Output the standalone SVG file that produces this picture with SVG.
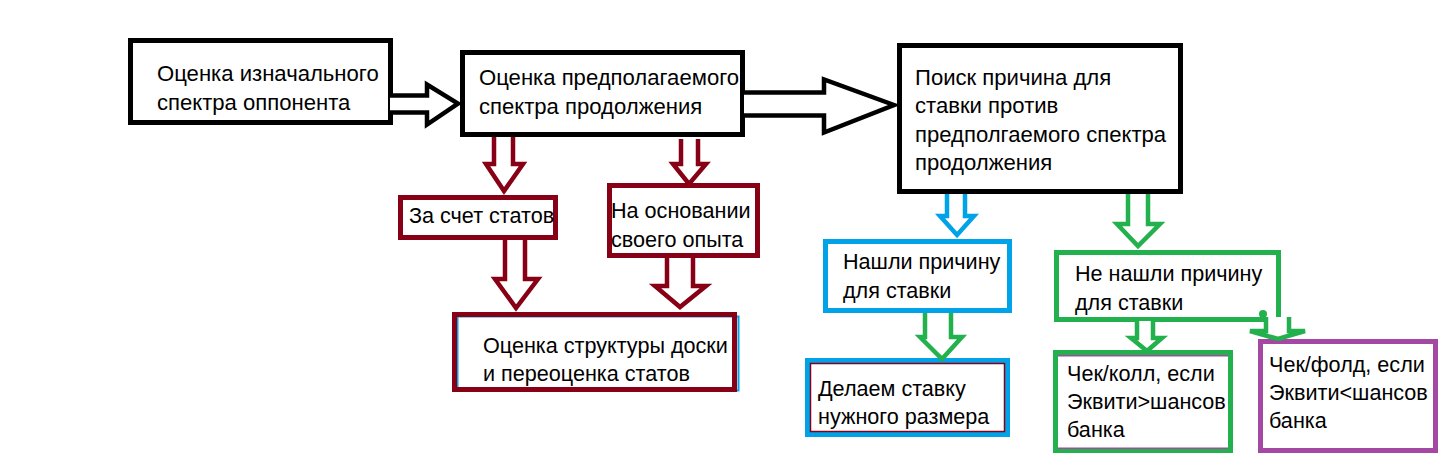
<svg xmlns="http://www.w3.org/2000/svg" width="1452" height="474" viewBox="0 0 1452 474">
<style>
.bx{fill:#fff;stroke-width:5}
.k{stroke:#000}.r{stroke:#880015}.b{stroke:#00A2E8}.g{stroke:#22B14C}.p{stroke:#A349A4}
.ar{fill:#fff;stroke-width:4.5;stroke-linejoin:miter}
text{font-family:"Liberation Sans",Arial,sans-serif;font-size:21.6px;fill:#000}
.big{font-size:22.1px}
</style>
<rect width="1452" height="474" fill="#fff"/>
<g id="n1"><rect class="bx k" x="130.5" y="40.5" width="260" height="82"/>
<text class="big" x="157" y="81">Оценка изначального</text><text class="big" x="157" y="110">спектра оппонента</text></g>
<g id="n2"><rect class="bx k" x="462.5" y="52.5" width="280" height="82"/>
<text class="big" x="479" y="85">Оценка предполагаемого</text><text class="big" x="479" y="114">спектра продолжения</text></g>
<g id="n3"><rect class="bx k" x="899.5" y="45.5" width="281" height="146"/>
<text class="big" x="915" y="85">Поиск причина для</text><text class="big" x="915" y="113">ставки против</text><text class="big" x="915" y="142">предполгаемого спектра</text><text class="big" x="915" y="170">продолжения</text></g>
<g id="n4"><rect class="bx r" x="400.5" y="197.5" width="155" height="40"/>
<text x="409" y="223">За счет статов</text></g>
<g id="n5"><rect class="bx r" x="609.5" y="185.5" width="148" height="70"/>
<text x="611" y="218">На основании</text><text x="611" y="247">своего опыта</text></g>
<g id="n6"><rect fill="none" stroke="#00A2E8" stroke-width="2" x="457.5" y="316.5" width="281" height="74"/>
<rect class="r" fill="none" stroke-width="5" x="454.5" y="314.5" width="280" height="75"/>
<text x="483" y="353">Оценка структуры доски</text><text x="483" y="381">и переоценка статов</text></g>
<g id="n7"><rect class="bx b" x="825.5" y="241.5" width="184" height="69"/>
<text x="843" y="269">Нашли причину</text><text x="843" y="298">для ставки</text></g>
<g id="n8"><rect class="bx b" x="807.5" y="360.5" width="200" height="74"/>
<rect fill="none" stroke="#880015" stroke-width="1.5" x="810.5" y="363.5" width="194" height="68"/>
<text x="818" y="396">Делаем ставку</text><text x="818" y="424">нужного размера</text></g>
<g id="n9"><rect class="bx g" x="1056.5" y="252.5" width="222" height="67"/>
<text x="1075" y="281">Не нашли причину</text><text x="1075" y="310">для ставки</text></g>
<g id="n10"><rect class="bx g" x="1055.5" y="352.5" width="175" height="98"/>
<line x1="1058" y1="355.8" x2="1228" y2="355.8" stroke="#A349A4" stroke-width="1.5"/>
<line x1="1058" y1="448.2" x2="1228" y2="448.2" stroke="#A349A4" stroke-width="1.5"/>
<text x="1067" y="381">Чек/колл, если</text><text x="1067" y="409">Эквити&gt;шансов</text><text x="1067" y="437">банка</text></g>
<g id="n11"><rect class="bx p" x="1260.5" y="341.5" width="175" height="109"/>
<text x="1269" y="372">Чек/фолд, если</text><text x="1269" y="400">Эквити&lt;шансов</text><text x="1269" y="428">банка</text></g>
<g id="connectors">
<path class="ar k" stroke-width="5" d="M390,95.5 H427 V84.5 L458,103.5 L427,124.5 V112.5 H390"/>
<path class="ar k" stroke-width="5" d="M744,92.5 H824 V79.5 L894,105 L824,132.5 V115.5 H744"/>
<path class="ar r" d="M494,137 V164 H486 L504,191 L523,164 H513 V137"/>
<path class="ar r" d="M681,139 V164 H673 L689,184 L706,164 H698 V139"/>
<path class="ar r" d="M505,240 V279 H495 L516,308 L538,279 H525 V240"/>
<path class="ar r" d="M667,258 V286 H655 L680,307 L706,286 H693 V258"/>
<path class="ar b" d="M947,194 V216 H940 L957,235 L974,216 H965 V194"/>
<path class="ar g" d="M925,313 V337 H920 L942,359 L962,337 H951 V313"/>
<path class="ar g" d="M1128,194 V224 H1117 L1138,246 L1160,224 H1148 V194"/>
<path class="ar g" d="M1137,321 V338 H1131 L1147,351 L1162,338 H1153 V321"/>
<circle cx="1263" cy="314" r="4" fill="#22B14C"/>
<path class="ar g" d="M1266,317 V331 H1250 L1278,339 L1305,331 H1289 V317"/>
</g>
</svg>
